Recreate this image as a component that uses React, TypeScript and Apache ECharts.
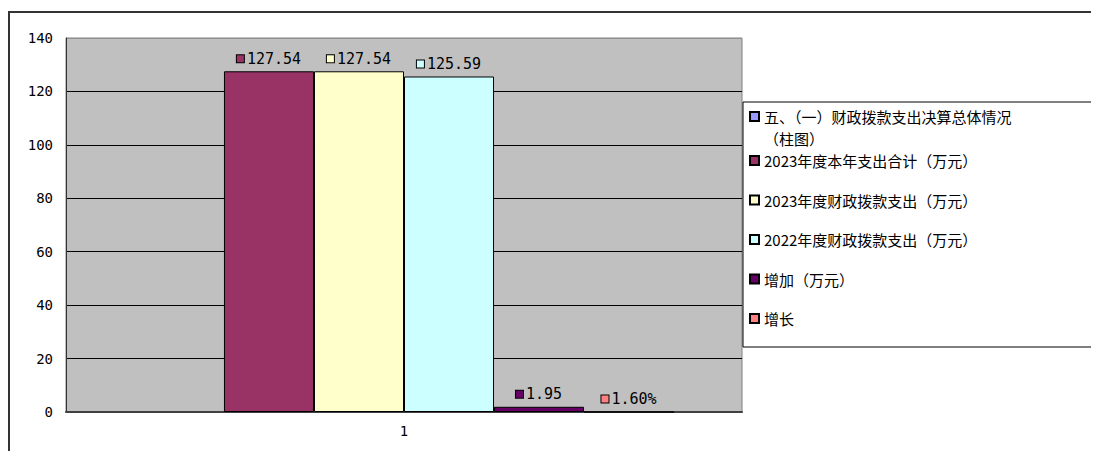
import React, { useEffect, useRef } from "react";
import * as echarts from "echarts";

const categories = ["1"];
const seriesNames = [
  "五、（一）财政拨款支出决算总体情况（柱图）",
  "2023年度本年支出合计（万元）",
  "2023年度财政拨款支出（万元）",
  "2022年度财政拨款支出（万元）",
  "增加（万元）",
  "增长",
];
const seriesValues: (number | null)[] = [null, 127.54, 127.54, 125.59, 1.95, 0.016];
const seriesColors = ["#9999FF", "#993366", "#FFFFCC", "#CCFFFF", "#660066", "#FF8080"];
const yTicks = { min: 0, max: 140, interval: 20 };

const MONO = "'DejaVu Sans Mono', monospace";
const CJK = "'Noto Sans CJK SC', sans-serif";

export default function App() {
  const ref = useRef<HTMLDivElement>(null);
  useEffect(() => {
    document.documentElement.style.overflow = "hidden";
    const chart = echarts.init(ref.current!, null, { renderer: "svg" });
    const series = seriesNames.map((name, i) => ({
      name,
      type: "bar",
      data: [seriesValues[i]],
      barGap: "0%",
      barCategoryGap: "20.1%",
      itemStyle: { color: seriesColors[i], borderColor: "#000", borderWidth: 1 },
      label: {
        show: seriesValues[i] !== null,
        position: "top",
        distance: 5,
        formatter: (p: any) => {
          const v = p.value as number;
          const t = name === "增长" ? (v * 100).toFixed(2) + "%" : v.toFixed(2);
          return `{k|}{v|${t}}`;
        },
        rich: {
          k: {
            width: 7,
            height: 7,
            backgroundColor: seriesColors[i],
            borderColor: "#000",
            borderWidth: 1,
          },
          v: { fontFamily: MONO, fontSize: 15, color: "#000", padding: [0, 0, 0, 3] },
        },
      },
    }));
    const legendCommon = {
      orient: "vertical",
      left: 741,
      padding: 0,
      itemWidth: 9,
      itemHeight: 9,
      icon: "rect",
    };
    const legendText = { fontFamily: CJK, fontSize: 15, lineHeight: 22, color: "#000" };
    chart.setOption({
      animation: false,
      grid: {
        left: 58,
        right: 357,
        top: 30,
        bottom: 39,
        show: true,
        backgroundColor: "#C0C0C0",
        borderColor: "#808080",
        borderWidth: 1,
      },
      xAxis: {
        type: "category",
        data: categories,
        axisTick: { show: false },
        axisLine: { show: true, lineStyle: { color: "#404040", width: 2 } },
        axisLabel: { fontFamily: MONO, fontSize: 14, color: "#000", margin: 12 },
      },
      yAxis: {
        type: "value",
        min: yTicks.min,
        max: yTicks.max,
        interval: yTicks.interval,
        axisLine: { show: true, lineStyle: { color: "#333", width: 1 } },
        axisTick: { show: false },
        axisLabel: { fontFamily: MONO, fontSize: 14, color: "#000", margin: 13 },
        splitLine: {
          show: true,
          lineStyle: {
            color: ["#404040", "#000", "#000", "#000", "#000", "#000", "#000", "#909090"],
            width: 1,
          },
        },
      },
      legend: [
        {
          ...legendCommon,
          top: 75.5,
          data: [seriesNames[0]],
          formatter: (n: string) => "\n" + n.replace("（柱图）", "\n（柱图）"),
          textStyle: legendText,
        },
        {
          ...legendCommon,
          top: 141.5,
          itemGap: 17.5,
          data: seriesNames.slice(1),
          textStyle: legendText,
        },
      ],
      graphic: [
        {
          type: "rect",
          shape: { x: 1, y: 4, width: 1200, height: 1000 },
          style: { fill: "none", stroke: "#333", lineWidth: 2 },
          silent: true,
        },
        {
          type: "rect",
          shape: { x: 735, y: 94, width: 500, height: 245 },
          style: { fill: "none", stroke: "#000", lineWidth: 1 },
          silent: true,
        },
      ],
      series,
    });
    return () => chart.dispose();
  }, []);
  return <div ref={ref} style={{ width: 1091, height: 443 }} />;
}
